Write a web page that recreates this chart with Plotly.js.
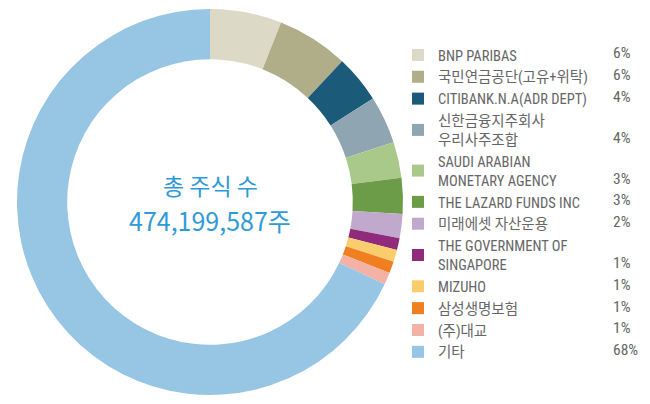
<!DOCTYPE html>
<html>
<head>
<meta charset="utf-8">
<script src="https://cdn.plot.ly/plotly-3.0.1.min.js"></script>
<style>html,body{margin:0;padding:0;background:#fff;}#chart{width:650px;height:404px;}</style>
</head>
<body>
<div id="chart"></div>
<script>
const holders = ["BNP PARIBAS","국민연금공단(고유+위탁)","CITIBANK.N.A(ADR DEPT)","신한금융지주회사<br>우리사주조합","SAUDI ARABIAN<br>MONETARY AGENCY","THE LAZARD FUNDS INC","미래에셋 자산운용","THE GOVERNMENT OF<br>SINGAPORE","MIZUHO","삼성생명보험","(주)대교","기타"];
const shares = [6,6,4,4,3,3,2,1,1,1,1,68];
const pctLabels = ["6%","6%","4%","4%","3%","3%","2%","1%","1%","1%","1%","68%"];
const colors = ["#dcdac6","#b0ae88","#1b5b79","#8fa5b1","#a9c98b","#6c9c48","#c0a9cd","#902a7a","#f9cd6b","#f07f22","#f4b1a5","#96c6e4"];
const centerTitle = "총 주식 수";
const centerValue = "474,199,587주";

const W = 650, H = 404;
const cx = 210, cy = 202, R = 193;
const legendFont = {family: "'Roboto Condensed', 'Noto Sans CJK KR', sans-serif", size: 14.5, color: "#666666"};
const pctFont = {family: "'Roboto Condensed', sans-serif", size: 15.5, color: "#666666"};
const legendTop = 39, legendLeft = 398;

// follow Plotly's own vertical legend layout: item height = lines*1.3*size + 3
const lineH = legendFont.size * 1.3;
const annotations = [];
let cum = 0;
holders.forEach((h, i) => {
  const n = h.split("<br>").length;
  const itemH = Math.max(n * lineH, 16) + 3;
  const lastLineY = legendTop + 5 + cum + itemH / 2 + lineH * (n - 1) / 2 - 1.5;
  annotations.push({
    text: pctLabels[i], xref: "paper", yref: "paper",
    x: 611 / W, y: 1 - lastLineY / H, xanchor: "left", yanchor: "middle",
    showarrow: false, font: pctFont
  });
  cum += itemH;
});
annotations.push({text: centerTitle, xref: "paper", yref: "paper", x: cx / W, y: 1 - 185 / H,
  xanchor: "center", yanchor: "middle", showarrow: false,
  font: {family: "'Noto Sans CJK KR', sans-serif", size: 23, color: "#2f9ad8"}});
annotations.push({text: centerValue, xref: "paper", yref: "paper", x: cx / W, y: 1 - 220 / H,
  xanchor: "center", yanchor: "middle", showarrow: false,
  font: {family: "'Noto Sans CJK KR', sans-serif", size: 25, color: "#2f9ad8"}});

const data = [{
  type: "pie",
  labels: holders,
  values: shares,
  marker: {colors: colors, line: {width: 0}},
  hole: 0.74,
  sort: false,
  direction: "clockwise",
  rotation: 0,
  textinfo: "none",
  hoverinfo: "label+percent",
  domain: {x: [(cx - R) / W, (cx + R) / W], y: [1 - (cy + R) / H, 1 - (cy - R) / H]}
}];

const layout = {
  width: W, height: H,
  margin: {l: 0, r: 0, t: 0, b: 0},
  paper_bgcolor: "#ffffff",
  showlegend: true,
  legend: {
    x: legendLeft / W, y: 1 - legendTop / H, xanchor: "left", yanchor: "top",
    font: legendFont, tracegroupgap: 0, itemwidth: 30, bgcolor: "rgba(0,0,0,0)"
  },
  annotations: annotations
};
Plotly.newPlot("chart", data, layout, {displayModeBar: false, staticPlot: true});
</script>
</body>
</html>
